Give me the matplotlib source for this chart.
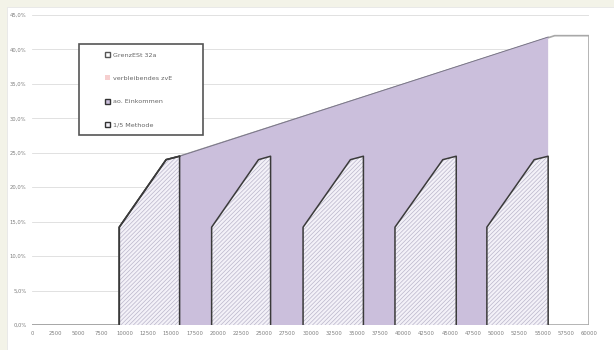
import matplotlib.pyplot as plt
from matplotlib.patches import Patch, Rectangle

# marginal tax rate curve (GrenzESt 32a), values in %
grenz_x = [0, 9400, 9400, 14450, 15900, 56300, 60000, 60000]
grenz_y = [0, 0, 14.2, 24.0, 24.5, 42.0, 42.0, 0]

# extraordinary income band (ao. Einkommen)
ao_x = [15900, 15900, 55600, 55600]
ao_y = [0, 24.5, 41.8, 0]

# 1/5 method blocks
fifth_blocks = [
    ([9400, 9400, 14450, 15900, 15900], [0, 14.2, 24.0, 24.5, 0]),
    ([19350, 19350, 24400, 25700, 25700], [0, 14.2, 24.0, 24.5, 0]),
    ([29200, 29200, 34300, 35700, 35700], [0, 14.2, 24.0, 24.5, 0]),
    ([39100, 39100, 44250, 45700, 45700], [0, 14.2, 24.0, 24.5, 0]),
    ([49000, 49000, 54100, 55600, 55600], [0, 14.2, 24.0, 24.5, 0]),
]

labels = ["GrenzESt 32a", "verbleibendes zvE", "ao. Einkommen", "1/5 Methode"]
x_ticks = list(range(0, 60001, 2500))
y_ticks = [0, 5, 10, 15, 20, 25, 30, 35, 40, 45]

purple = "#cbbfdc"
dark = "#3a3a3a"
hatch_bg = "#f3f1f8"
hatch_col = "#bab6ca"

plt.rcParams["hatch.linewidth"] = 0.5

fig = plt.figure(figsize=(6.14, 3.5), dpi=100, facecolor="#f3f3e8")
W, H = 614, 350
fig.patches.append(Rectangle((7 / W, 0), 1 - 7 / W, 1 - 7 / H, transform=fig.transFigure,
                             facecolor="white", edgecolor="#e6e6e6", lw=0.6, zorder=-5))

ax = fig.add_axes([32 / W, 25 / H, 557 / W, 310 / H])
ax.set_facecolor("none")

# GrenzESt: white area with grey outline
ax.fill(grenz_x, grenz_y, facecolor="white", edgecolor="#a8a8a8", lw=1.2, zorder=2)
ax.plot(grenz_x[1:5], grenz_y[1:5], color=dark, lw=1.2, zorder=5)

# ao. Einkommen
ax.fill(ao_x, ao_y, facecolor=purple, edgecolor="none", zorder=3)
ax.plot(ao_x[1:3], ao_y[1:3], color="#7a7688", lw=0.7, zorder=3)

# 1/5 Methode blocks: light hatch, dark outline
for bx, by in fifth_blocks:
    ax.fill(bx, by, facecolor=hatch_bg, edgecolor=hatch_col, lw=0, hatch="////////", zorder=4)
    ax.plot(bx, by, color=dark, lw=1.1, zorder=5)

ax.set_xlim(0, 60000)
ax.set_ylim(0, 45)
ax.set_xticks(x_ticks)
ax.set_xticklabels([str(v) for v in x_ticks])
ax.set_yticks(y_ticks)
ax.set_yticklabels([f"{v},0%" for v in y_ticks])
ax.tick_params(axis="both", length=0, labelsize=3.8, colors="#7f7f7f", pad=4)
ax.grid(axis="y", color="#dcdcdc", lw=0.6, zorder=1)
ax.set_axisbelow(True)
for s in ax.spines.values():
    s.set_visible(False)
ax.axhline(0, color="#c8c8c8", lw=0.8, zorder=1)

# legend with its own frame
fig.patches.append(Rectangle((79 / W, 1 - 135 / H), 124 / W, 91 / H, transform=fig.transFigure,
                             facecolor="white", edgecolor="#555555", lw=1.2, zorder=6))
handles = [
    Patch(facecolor="white", edgecolor="#555555", lw=1.0),
    Patch(facecolor="#f6cfcf", edgecolor="none"),
    Patch(facecolor=purple, edgecolor="#333333", lw=1.0),
    Patch(facecolor=hatch_bg, edgecolor="#333333", lw=1.0),
]
leg = fig.legend(handles, labels, loc="upper left", bbox_to_anchor=(102 / W, 1 - 49 / H),
                 frameon=False, fontsize=4.6, labelspacing=2.75, handlelength=0.8,
                 handleheight=0.8, handletextpad=0.35, borderpad=0)
leg.set_zorder(7)
for t in leg.get_texts():
    t.set_color("#666666")

fig.savefig("out.png", dpi=100, facecolor=fig.get_facecolor())
